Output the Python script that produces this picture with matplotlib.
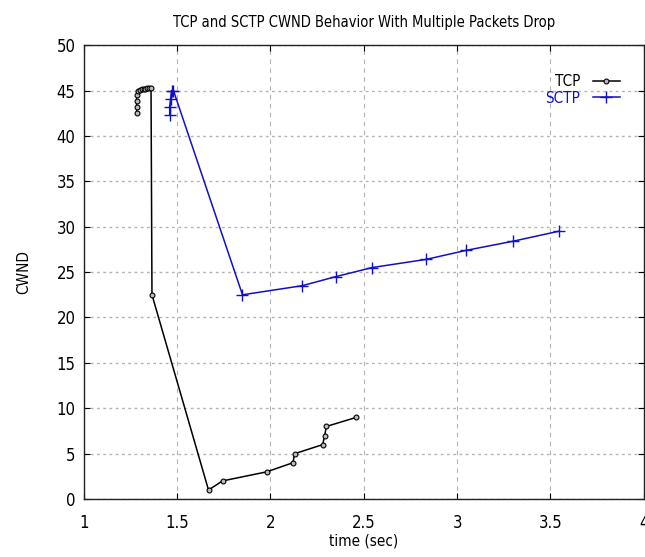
import matplotlib.pyplot as plt

# --- Data ---
tcp_t = [1.283, 1.283, 1.283, 1.283, 1.29, 1.30, 1.31, 1.32, 1.33, 1.34, 1.35, 1.36,
         1.365, 1.668, 1.743, 1.98, 2.12, 2.13, 2.28, 2.29, 2.30, 2.46]
tcp_cwnd = [42.5, 43.2, 43.8, 44.5, 45.0, 45.1, 45.2, 45.2, 45.2, 45.3, 45.3, 45.3,
            22.5, 1.0, 2.0, 3.0, 4.0, 5.0, 6.0, 7.0, 8.0, 9.0]

sctp_t = [1.46, 1.46, 1.465, 1.47, 1.48, 1.85, 2.17, 2.35, 2.545, 2.834, 3.05, 3.30, 3.545]
sctp_cwnd = [42.3, 43.2, 44.1, 45.0, 45.0, 22.5, 23.5, 24.5, 25.5, 26.4, 27.4, 28.4, 29.5]

xticks = [1, 1.5, 2, 2.5, 3, 3.5, 4]
yticks = [0, 5, 10, 15, 20, 25, 30, 35, 40, 45, 50]

plt.rcParams['font.family'] = ['DejaVu Sans']
plt.rcParams['font.stretch'] = 'condensed'

fig = plt.figure(figsize=(6.45, 5.57), dpi=100)
ax = fig.add_axes([0.130, 0.104, 0.868, 0.815])

ax.plot(tcp_t, tcp_cwnd, color='black', linewidth=1.1, marker='o', markersize=3.5,
        markerfacecolor='#bbbbbb', markeredgecolor='black', markeredgewidth=0.8, label='TCP')
ax.plot(sctp_t, sctp_cwnd, color='#1010c8', linewidth=1.1, marker='+', markersize=8,
        markeredgewidth=1.0, label='SCTP')

ax.set_xlim(1, 4)
ax.set_ylim(0, 50)
ax.set_xticks(xticks)
ax.set_xticklabels(['1', '1.5', '2', '2.5', '3', '3.5', '4'])
ax.set_yticks(yticks)
ax.tick_params(direction='in', top=True, right=True, length=4, labelsize=12, pad=6)
ax.tick_params(axis='x', pad=11)

ax.yaxis.grid(True, color='#b4b4b4', linestyle=(0, (2, 2.5)), linewidth=1.0)
ax.xaxis.grid(True, color='#b4b4b4', linestyle=(0, (4, 4)), linewidth=0.8)
ax.set_axisbelow(True)

for s in ax.spines.values():
    s.set_color('#222222')
    s.set_linewidth(1.0)

ax.set_title('TCP and SCTP CWND Behavior With Multiple Packets Drop', fontsize=10.5, pad=13)
ax.set_xlabel('time (sec)', fontsize=11, labelpad=1)
ax.set_ylabel('CWND', fontsize=11, labelpad=18)

leg = ax.legend(loc='upper right', frameon=False, markerfirst=False, fontsize=11,
                handlelength=1.8, labelspacing=0.1, borderaxespad=0.6,
                bbox_to_anchor=(0.985, 0.97))
for txt, c in zip(leg.get_texts(), ['black', '#1010c8']):
    txt.set_color(c)

fig.savefig('out.png', dpi=100)
